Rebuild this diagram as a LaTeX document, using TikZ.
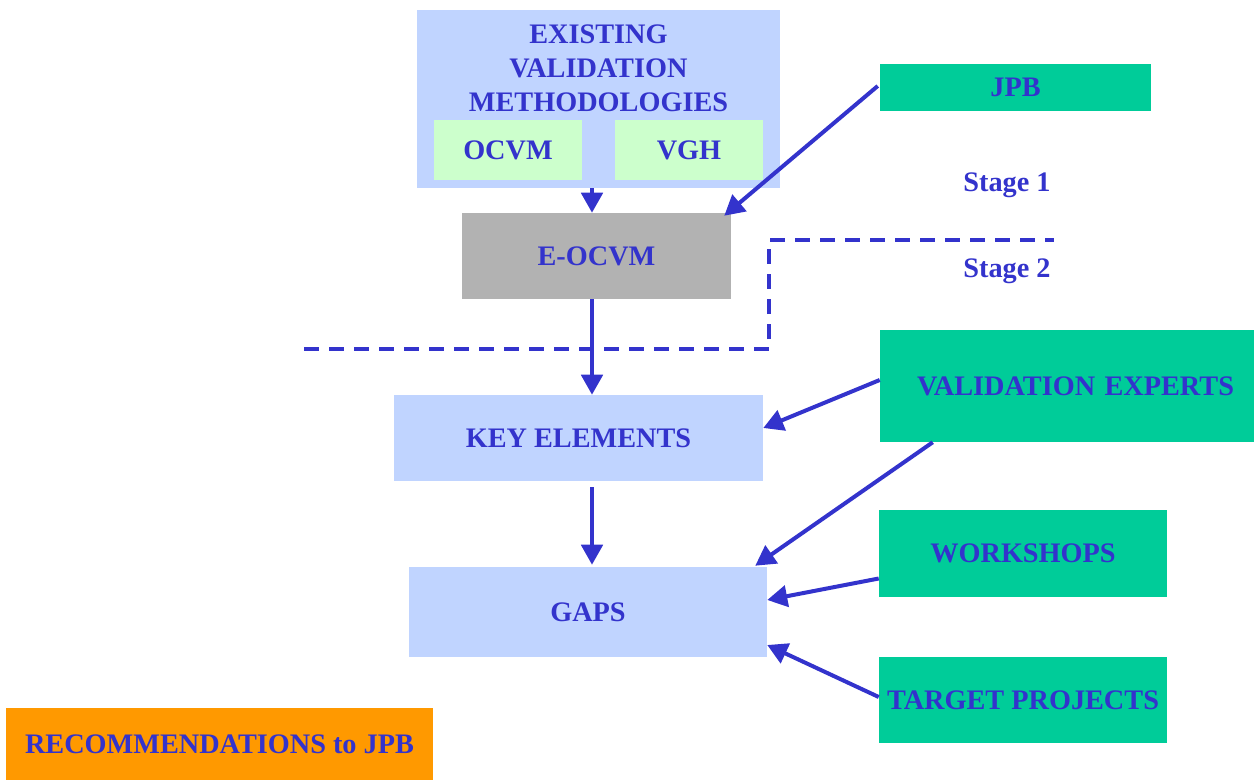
\documentclass[tikz,border=0pt]{standalone}
\usepackage{fontspec}
\setmainfont{Liberation Serif}
\usetikzlibrary{arrows.meta,calc}
\definecolor{ink}{HTML}{3333CC}
\definecolor{paleblue}{HTML}{C0D4FF}
\definecolor{palegreen}{HTML}{CCFFCC}
\definecolor{boxgray}{HTML}{B2B2B2}
\definecolor{teal}{HTML}{00CC99}
\definecolor{amber}{HTML}{FF9900}
\tikzset{
  box/.style={inner sep=0pt, text=ink, font=\fontsize{21.2}{25.5}\selectfont\bfseries, align=center},
  sz/.style 2 args={minimum width=#1*0.75pt, minimum height=#2*0.75pt},
  flow/.style={draw=ink, line width=3pt, -{Triangle[length=15pt,width=16pt]}},
  stageline/.style={draw=ink, line width=3pt, dash pattern=on 11.25pt off 7.5pt},
  lbl/.style={text=ink, font=\fontsize{21.2}{25.5}\selectfont\bfseries}
}
\begin{document}
\begin{tikzpicture}[x=0.75pt, y=-0.75pt]
\useasboundingbox (0,0) rectangle (1254,781);

% existing methodologies with the two sources inside
\node[box, fill=paleblue, sz={363}{178}] (evm) at (598.5,99) {};
\node[box] (evmt) at (598.5,68) {EXISTING\\VALIDATION\\METHODOLOGIES};
\node[box, fill=palegreen, sz={148}{60}] (ocvm) at (508,150) {OCVM};
\node[box, fill=palegreen, sz={148}{60}] (vgh) at (689,150) {VGH};

\node[box, fill=boxgray, sz={269}{86}] (eocvm) at (596.5,256) {E-OCVM};
\node[box, fill=teal, sz={271}{47}] (jpb) at (1015.5,87.5) {JPB};

\node[lbl] (s1) at (1007,185) {Stage 1};
\node[lbl] (s2) at (1007,271) {Stage 2};

\node[box, fill=paleblue, sz={369}{86}] (key) at (578.5,438) {KEY ELEMENTS};
\node[box, fill=teal, sz={374}{112}, text width=334*0.75pt, align=right] (ve) at (1067,386) {VALIDATION EXPERTS};
\node[box, fill=paleblue, sz={358}{90}] (gaps) at (588,612) {GAPS};
\node[box, fill=teal, sz={288}{87}] (ws) at (1023,553.5) {WORKSHOPS};
\node[box, fill=teal, sz={288}{86}] (tp) at (1023,700) {TARGET PROJECTS};
\node[box, fill=amber, sz={427}{72}] (rec) at (219.5,744) {RECOMMENDATIONS to JPB};

% boundary between the two stages
\coordinate (d1) at (304,349);
\coordinate (dc1) at (769,349);
\coordinate (dc2) at (769,240);
\coordinate (d2) at (1054,240);
\draw[stageline] (d1) -- (dc1) -- (dc2) -- (d2);

% flow
\draw[flow] ($(evm.south)+(-6.5,0)$) -- ($(eocvm.north)+(-4.5,0)$);
\draw[flow] ($(jpb.west)+(-2,-1.5)$) -- ($(eocvm.north east)+(-7,3)$);
\draw[flow] ($(eocvm.south)+(-4.5,0)$) -- ($(key.north)+(13.5,0)$);
\draw[flow] ($(key.south)+(13.5,6)$) -- ($(gaps.north)+(4,-2)$);
\draw[flow] ($(ve.west)+(0,-6)$) -- ($(key.east)+(0,-10)$);
\draw[flow] ($(ve.south west)+(53,0)$) -- ($(gaps.north east)+(-12,-1)$);
\draw[flow] ($(ws.west)+(0,25)$) -- ($(gaps.east)+(0,-12)$);
\draw[flow] ($(tp.west)+(0,-3)$) -- ($(gaps.east)+(0,33)$);
\end{tikzpicture}
\end{document}
